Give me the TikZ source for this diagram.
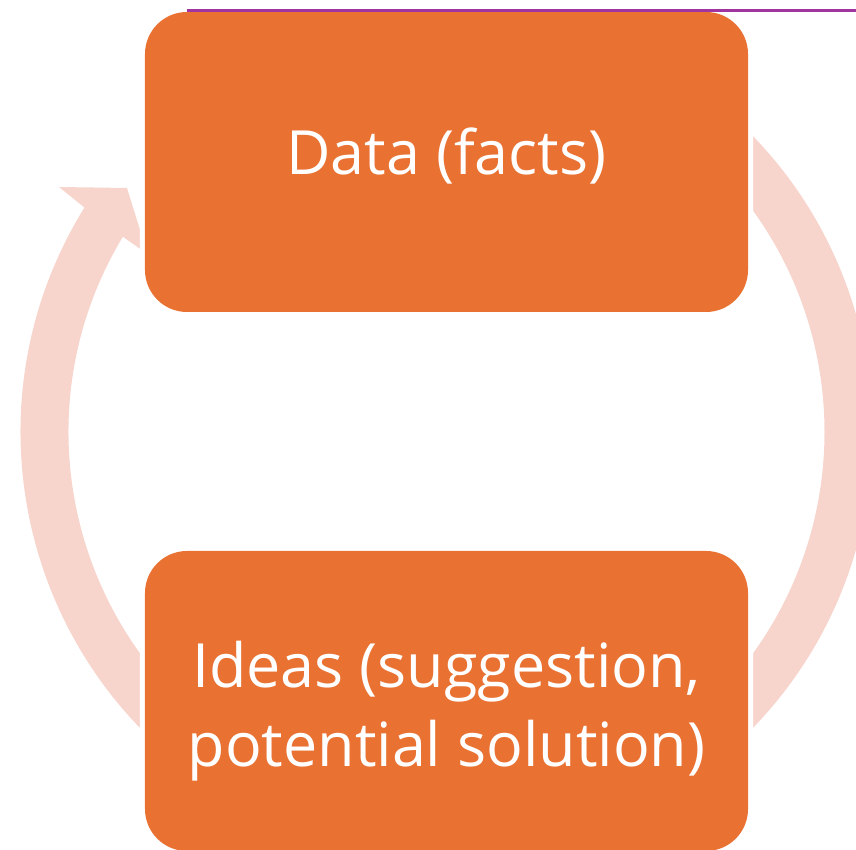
\documentclass[tikz,border=0pt]{standalone}
\usepackage{fontspec}
\setmainfont{Open Sans}
\definecolor{boxorange}{HTML}{E97132}
\definecolor{ringpink}{RGB}{247,213,205}
\definecolor{rulepurple}{RGB}{160,52,160}

\begin{document}
\begin{tikzpicture}[x=1pt,y=1pt,
    stage/.style={rectangle, rounded corners=42pt, minimum width=603pt, minimum height=300pt,
      fill=boxorange, preaction={draw=white, line width=10pt}},
    stagetext/.style={text=white, font=\fontsize{61}{79}\selectfont, align=center}]
  \useasboundingbox (-446.5,-418) rectangle (409.5,432);

  \fill[ringpink] (235:426) arc[start angle=235, end angle=148.2, radius=426]
    -- (-387.5,245) -- (-319.5,244) -- (-299,178)
    -- (148.9:378) arc[start angle=148.9, end angle=235, radius=378] -- cycle;
  \fill[ringpink] (45:426) arc[start angle=45, end angle=-45, radius=426]
    -- (-45:378) arc[start angle=-45, end angle=45, radius=378] -- cycle;

  \node[stage] (data) at (0,270) {};
  \node[stage] (ideas) at (0,-269) {};
  \node[stagetext, anchor=base] (datalabel) at (0,257) {Data (facts)};
  \node[stagetext, anchor=base] (ideaslabel) at (0,-334) {Ideas (suggestion,\\potential solution)};

  \coordinate (ruleA) at (-259.5,421.7);
  \coordinate (ruleB) at (409.5,421.7);
  \draw[rulepurple, line width=2.5pt] (ruleA) -- (ruleB);
\end{tikzpicture}
\end{document}
